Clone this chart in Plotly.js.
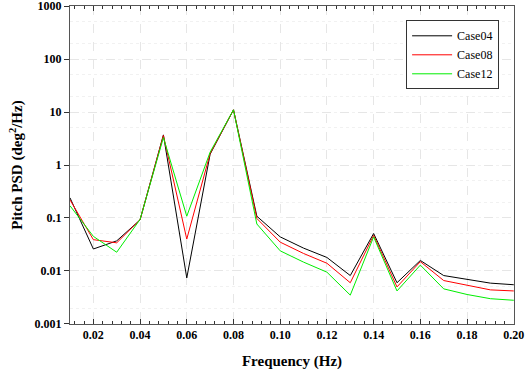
<!DOCTYPE html>
<html>
<head>
<meta charset="utf-8">
<script src="https://cdn.plot.ly/plotly-3.0.1.min.js"></script>
<style>html,body{margin:0;padding:0;background:#fff;}#chart{width:526px;height:380px;}</style>
</head>
<body>
<div id="chart"></div>
<script>
var freq = [0.01,0.02,0.03,0.04,0.05,0.06,0.07,0.08,0.09,0.10,0.11,0.12,0.13,0.14,0.15,0.16,0.17,0.18,0.19,0.20];
var case04 = [0.24,0.026,0.037,0.092,3.7,0.0074,1.6,11,0.108,0.044,0.027,0.018,0.0082,0.051,0.006,0.0158,0.0082,0.0069,0.0059,0.0055];
var case08 = [0.22,0.039,0.034,0.093,3.6,0.040,1.65,11,0.098,0.035,0.0214,0.014,0.0060,0.047,0.005,0.015,0.0066,0.0053,0.0044,0.0042];
var case12 = [0.17,0.045,0.0226,0.094,3.3,0.108,1.75,11,0.077,0.024,0.0147,0.0095,0.0035,0.044,0.0042,0.0129,0.0046,0.0036,0.0030,0.0028];
var seriesNames = ['Case04','Case08','Case12'];
var xTickVals = [0.02,0.04,0.06,0.08,0.10,0.12,0.14,0.16,0.18,0.20];
var xTickText = ['0.02','0.04','0.06','0.08','0.10','0.12','0.14','0.16','0.18','0.20'];
var yTickVals = [0.001,0.01,0.1,1,10,100,1000];
var yTickText = ['0.001','0.01','0.1','1','10','100','1000'];

var serif = '"Liberation Serif", "Times New Roman", serif';
function tr(y, name, color) {
  return {x: freq, y: y, name: name, type: 'scatter', mode: 'lines',
          line: {color: color, width: 1}};
}
var data = [
  tr(case04, seriesNames[0], '#000000'),
  tr(case08, seriesNames[1], '#ff0000'),
  tr(case12, seriesNames[2], '#00ee00')
];
var layout = {
  width: 526, height: 380,
  margin: {l: 70, r: 12, t: 6, b: 56},
  paper_bgcolor: '#fff', plot_bgcolor: '#fff',
  showlegend: true,
  legend: {x: 0.757, y: 0.955, xanchor: 'left', yanchor: 'top',
           bordercolor: '#333', borderwidth: 1, bgcolor: '#fff',
           font: {family: serif, size: 12, color: '#000'},
           tracegroupgap: 0, itemwidth: 40},
  xaxis: {
    range: [0.01, 0.2001], tickvals: xTickVals, ticktext: xTickText,
    ticks: 'inside', ticklen: 5, tickcolor: '#333', mirror: 'ticks',
    showline: true, linecolor: '#555', linewidth: 1,
    showgrid: true, gridcolor: '#e6e6e6', griddash: 'dash', gridwidth: 1,
    zeroline: false, ticklabeloverflow: 'allow',
    minor: {dtick: 0.004, tick0: 0, ticks: 'inside', ticklen: 3, tickcolor: '#333', showgrid: false},
    tickfont: {family: serif, size: 12, color: '#000', weight: 'bold'},
    title: {text: 'Frequency (Hz)', font: {family: serif, size: 15, color: '#000', weight: 'bold'}, standoff: 14}
  },
  yaxis: {
    type: 'log', range: [-3.0005, 3.0005], tickvals: yTickVals, ticktext: yTickText,
    ticks: 'outside', ticklen: 5, tickcolor: '#333',
    showline: true, linecolor: '#555', linewidth: 1, mirror: true,
    showgrid: true, gridcolor: '#e6e6e6', griddash: 'dash', gridwidth: 1,
    zeroline: false, ticklabeloverflow: 'allow',
    minor: {showgrid: true, gridcolor: '#f1f1f1', griddash: 'dot', ticks: ''},
    tickfont: {family: serif, size: 12, color: '#000', weight: 'bold'},
    title: {text: 'Pitch PSD (deg<sup>2</sup>/Hz)', font: {family: serif, size: 15, color: '#000', weight: 'bold'}, standoff: 8}
  }
};
Plotly.newPlot('chart', data, layout, {displayModeBar: false, staticPlot: true});
</script>
</body>
</html>
